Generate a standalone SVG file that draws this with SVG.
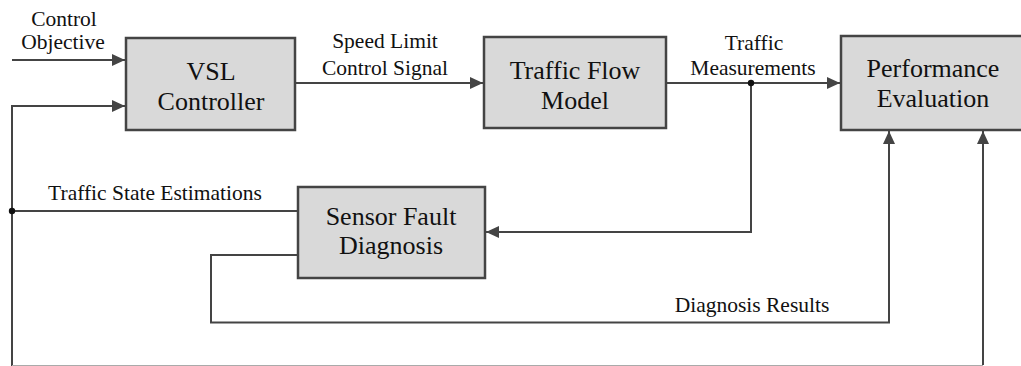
<svg xmlns="http://www.w3.org/2000/svg" width="1021" height="366" viewBox="0 0 1021 366">
<defs>
<style>
.box{fill:#d9d9d9;stroke:#444;stroke-width:2.5}
.ln{fill:none;stroke:#444;stroke-width:2}
.bt{font-size:26px;fill:#111;text-anchor:middle}
.lb{font-size:21.5px;fill:#111;text-anchor:middle}
.dot{fill:#111}
</style>
<marker id="ah" markerUnits="userSpaceOnUse" markerWidth="14" markerHeight="14" viewBox="0 0 14 14" refX="13" refY="7" orient="auto">
<path d="M0,1 L13,7 L0,13 Z" fill="#444"/>
</marker>
</defs>
<rect width="1021" height="366" fill="#fff"/>
<g id="connectors" font-family="'Liberation Serif', 'Times New Roman', 'DejaVu Serif', serif">
<path class="ln" d="M12,60 H125" marker-end="url(#ah)"/>
<path class="ln" d="M12,366 V106 H125" marker-end="url(#ah)"/>
<path class="ln" d="M12,211 H298"/>
<path class="ln" d="M295,83 H483" marker-end="url(#ah)"/>
<path class="ln" d="M666,83 H840" marker-end="url(#ah)"/>
<path class="ln" d="M751,83 V232 H486" marker-end="url(#ah)"/>
<path class="ln" d="M298,255 H211 V322.5 H889 V131" marker-end="url(#ah)"/>
<path class="ln" d="M983,365 V131" marker-end="url(#ah)"/>
<path d="M12,365.5 H983" fill="none" stroke="#aaa" stroke-width="1"/>
<circle class="dot" cx="751" cy="83" r="3.2"/>
<circle class="dot" cx="12" cy="211" r="3.2"/>
<text class="lb" x="64" y="26">Control</text>
<text class="lb" x="63" y="49">Objective</text>
<text class="lb" x="385" y="48">Speed Limit</text>
<text class="lb" x="385" y="75">Control Signal</text>
<text class="lb" x="754" y="50">Traffic</text>
<text class="lb" x="753" y="75">Measurements</text>
<text class="lb" x="155" y="200">Traffic State Estimations</text>
<text class="lb" x="752" y="312">Diagnosis Results</text>
</g>
<g id="vsl" font-family="'Liberation Serif', 'Times New Roman', 'DejaVu Serif', serif">
<rect class="box" x="126" y="38" width="169" height="92"/>
<text class="bt" x="211" y="80">VSL</text>
<text class="bt" x="211" y="110">Controller</text>
</g>
<g id="tfm" font-family="'Liberation Serif', 'Times New Roman', 'DejaVu Serif', serif">
<rect class="box" x="484" y="37" width="182" height="91"/>
<text class="bt" x="575" y="79">Traffic Flow</text>
<text class="bt" x="575" y="109">Model</text>
</g>
<g id="pe" font-family="'Liberation Serif', 'Times New Roman', 'DejaVu Serif', serif">
<rect class="box" x="841" y="36" width="184" height="94"/>
<text class="bt" x="933" y="77">Performance</text>
<text class="bt" x="933" y="107">Evaluation</text>
</g>
<g id="sfd" font-family="'Liberation Serif', 'Times New Roman', 'DejaVu Serif', serif">
<rect class="box" x="298" y="187" width="187" height="91"/>
<text class="bt" x="391" y="225">Sensor Fault</text>
<text class="bt" x="391" y="254">Diagnosis</text>
</g>
</svg>
